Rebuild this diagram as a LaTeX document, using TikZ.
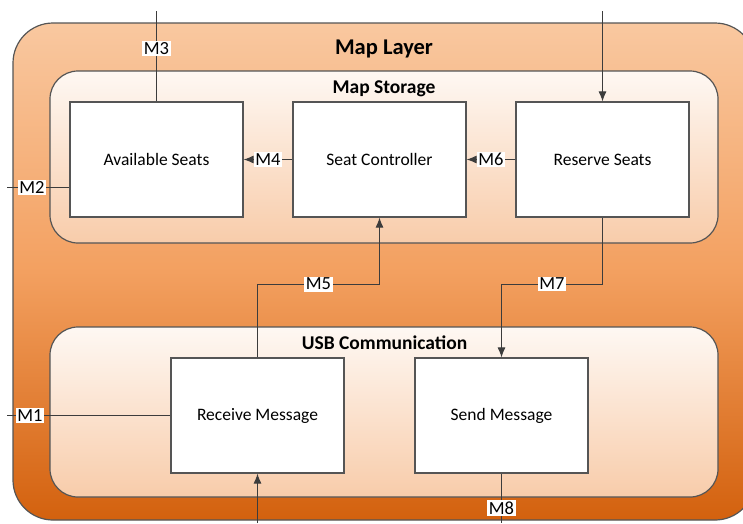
\documentclass[tikz,border=0pt]{standalone}
\usepackage{fontspec}
\setmainfont{Carlito}
\usepackage{xcolor}
\usepackage{tikz}
\usetikzlibrary{positioning,arrows.meta}

\definecolor{layertop}{RGB}{249,200,160}
\definecolor{layermid}{RGB}{243,160,96}
\definecolor{layerbot}{RGB}{211,97,14}
\definecolor{subtop}{RGB}{254,248,243}
\definecolor{subbot}{RGB}{248,204,170}
\definecolor{edgegray}{RGB}{85,85,85}
\definecolor{wiregray}{RGB}{60,60,60}

\begin{document}
\begin{tikzpicture}[x=1pt, y=-1pt, >={Latex[length=10pt,width=8pt]}]
  \tikzstyle{layer}=[rectangle, draw=edgegray, line width=1.2pt, rounded corners=40pt,
                     top color=layertop, bottom color=layerbot, middle color=layermid]
  \tikzstyle{sublayer}=[rectangle, draw=edgegray, line width=1.2pt, rounded corners=28pt,
                        top color=subtop, bottom color=subbot]
  \tikzstyle{fbox}=[rectangle, draw=edgegray, fill=white, line width=1.2pt,
                    minimum width=173pt, minimum height=115pt,
                    align=center, font=\fontsize{17.5}{20}\selectfont]
  \tikzstyle{ttl}=[font=\fontsize{19.5}{22}\selectfont\bfseries]
  \tikzstyle{msg}=[fill=white, inner sep=1.5pt, font=\fontsize{18.5}{20}\selectfont]
  \tikzstyle{wire}=[draw=wiregray, line width=1pt]
  \tikzstyle{arr}=[wire, ->]

  \useasboundingbox (0,0) rectangle (743,523);

  % containers
  \node[layer, minimum width=742pt, minimum height=497pt] at (384,271.5) (maplayer) {};
  \node[sublayer, minimum width=668pt, minimum height=172pt] at (384,157) (storage) {};
  \node[sublayer, minimum width=668pt, minimum height=170pt] at (384,412) (usb) {};

  \node[ttl, font=\fontsize{22.5}{24}\selectfont\bfseries] at (384,49) (layerttl) {Map Layer};
  \node[ttl] at (384,89) (storagettl) {Map Storage};
  \node[ttl] at (384.5,343) (usbttl) {USB Communication};

  % function blocks
  \node[fbox] at (156.5,159.5) (avail) {Available Seats};
  \node[fbox] at (379.5,159.5) (ctrl)  {Seat Controller};
  \node[fbox] at (602.5,159.5) (rsv)   {Reserve Seats};
  \node[fbox] at (257.5,415.5) (recv)  {Receive Message};
  \node[fbox] at (501.5,415.5) (send)  {Send Message};

  % free ends
  \coordinate (m3out)  at (156.5,11);
  \coordinate (rsvin)  at (602.5,11);
  \coordinate (m2in)   at (7,187);
  \coordinate (m1in)   at (7,415.5);
  \coordinate (recvin) at (257.5,523);
  \coordinate (m8out)  at (501.5,523);
  \coordinate (m5turn) at (257.5,284);
  \coordinate (m7turn) at (602.5,284);

  \draw[wire] (avail.north) -- node[msg, pos=0.59]{M3} (m3out);
  \draw[arr]  (rsvin) -- (rsv.north);
  \draw[wire] (m2in) -- node[msg, pos=0.4]{M2} (m2in -| avail.west);
  \draw[arr]  (ctrl.west) -- node[msg]{M4} (avail.east);
  \draw[arr]  (rsv.west)  -- node[msg]{M6} (ctrl.east);

  \draw[arr] (recv.north) -- (m5turn) -| node[msg, pos=0.25]{M5} (ctrl.south);
  \draw[arr] (rsv.south)  -- (m7turn) -| node[msg, pos=0.25]{M7} (send.north);

  \draw[wire] (m1in) -- node[msg, pos=0.14]{M1} (recv.west);
  \draw[arr]  (recvin) -- (recv.south);
  \draw[wire] (send.south) -- node[msg, pos=0.7]{M8} (m8out);
\end{tikzpicture}
\end{document}
